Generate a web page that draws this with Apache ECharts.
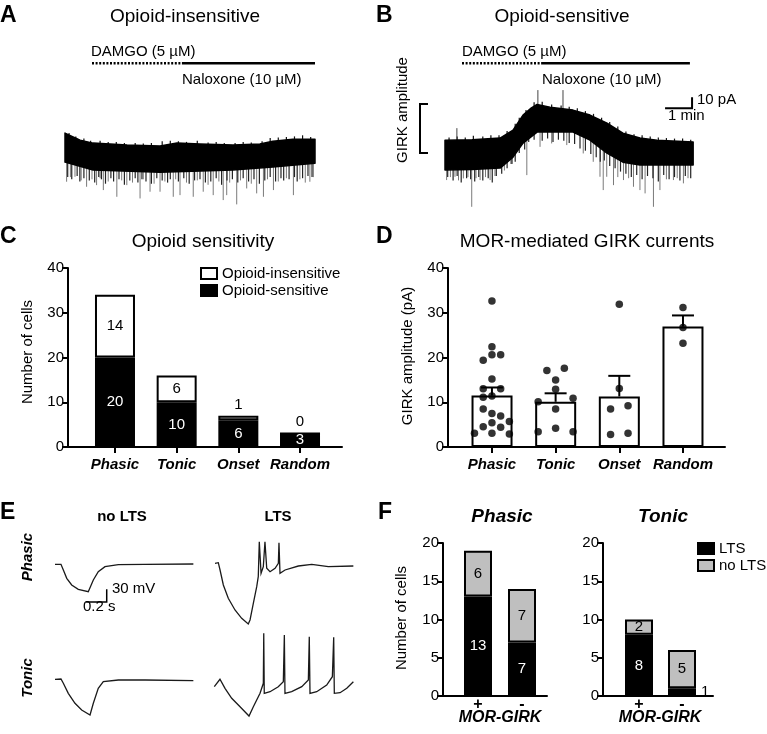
<!DOCTYPE html>
<html><head><meta charset="utf-8">
<script src="https://cdn.jsdelivr.net/npm/echarts@6/dist/echarts.min.js"></script>
<style>html,body{margin:0;padding:0;background:#fff}#c{width:767px;height:734px}</style>
</head><body><div id="c"></div>
<script>
// ---------------- DATA ----------------
// Panel A (time in min, current in pA relative to baseline)
const aTopT = [0, 0.56, 1.04, 2.3, 3.52, 4.15, 5.0, 6.22, 7.22, 7.7, 8.44, 9.26];
const aTopV = [20, 13.6, 10.9, 9.1, 8.2, 10.9, 10, 9.1, 10, 12.7, 14.5, 14.5];
const aBotT = [0, 1.04, 3.52, 6.22, 7.7, 9.26];
const aBotV = [-6.4, -13.6, -15.5, -13.6, -10.9, -7.3];
const aSpikeT = [0.06,0.2,0.37,0.6,0.8,1.0,1.17,1.3,1.42,1.6,1.92,2.1,2.29,2.5,2.78,2.9,3.15,3.3,3.52,3.7,4.01,4.1,4.26,4.5,4.75,4.9,5.12,5.3,5.49,5.7,5.86,5.99,6.1,6.36,6.5,6.73,6.9,7.1,7.35,7.5,7.72,7.9,8.2,8.46,8.7,8.9,9.07,9.2];
const aSpikeV = [-24.2,-20,-19.7,-23,-28.8,-22,-27.3,-21,-31.8,-24,-37.9,-23,-27.3,-25,-39.4,-22,-33.3,-26,-33.3,-24,-37.9,-22,-36.4,-25,-37.9,-23,-33.3,-27,-36.4,-24,-40.9,-36.4,-25,-44.8,-23,-30.3,-26,-34.8,-37.9,-22,-31.8,-24,-21,-36.4,-22,-25,-24.2,-20];
const aFringeT = [0.1,0.25,0.45,0.55,0.7,0.9,1.1,1.25,1.35,1.5,1.7,1.8,2.0,2.2,2.4,2.6,2.7,2.85,3.0,3.2,3.4,3.6,3.8,3.9,4.2,4.4,4.6,4.8,5.0,5.2,5.4,5.6,5.8,6.0,6.2,6.4,6.6,6.8,7.0,7.2,7.4,7.6,7.8,8.0,8.1,8.3,8.5,8.6,8.8,9.0,9.15];
const aFringeV = [-20,-22,-19,-24,-21,-23,-25,-20,-22,-26,-21,-24,-22,-27,-23,-21,-25,-22,-24,-26,-21,-23,-25,-22,-24,-21,-26,-23,-22,-25,-24,-21,-27,-23,-22,-25,-21,-24,-22,-26,-23,-20,-24,-21,-23,-22,-20,-24,-21,-19,-20];
const aTopFringeT = [0.15,0.4,0.7,0.95,1.3,1.6,1.9,2.2,2.6,2.9,3.2,3.6,3.9,4.2,4.5,4.9,5.3,5.6,5.9,6.3,6.6,6.9,7.3,7.6,7.9,8.2,8.5,8.8,9.1];
const aTopFringeV = [20,17,15,13,13,12,12,11,11,10.5,11,12.5,13,12.5,12,13,11.5,12,11,11,12,11.5,12.5,15.5,16,16.5,17,18,16.5];
const aDamgo = [1.0, 4.33];
const aNalox = [4.33, 9.26];
// Panel B
const bTopT = [0, 1.0, 2.04, 2.52, 2.89, 3.2, 3.41, 3.89, 4.74, 5.37, 6.0, 6.59, 7.22, 7.85, 9.19];
const bTopV = [13.6, 14, 15.5, 22.7, 36.4, 43, 46, 43.6, 40.9, 36.4, 29.1, 20, 15.5, 13.6, 11.8];
const bBotT = [0, 1.0, 2.04, 2.52, 2.89, 3.41, 4.74, 5.37, 6.0, 6.59, 7.22, 9.19];
const bBotV = [-13.6, -13, -11.8, -1.8, 10.9, 20.9, 20.9, 13.6, 1.8, -6.4, -9.1, -9.1];
const bSpikeT = [0.06,0.2,0.37,0.5,0.68,0.85,0.99,1.15,1.3,1.5,1.67,1.85,2.2,2.5,3.03,3.52,3.95,4.51,5.12,5.49,5.74,5.86,5.99,6.24,6.4,6.61,6.8,6.98,7.22,7.41,7.72,7.96,8.2,8.46,8.6,8.83,9.0];
const bSpikeV = [-22.7,-20,-19.7,-23,-21.2,-20,-47,-21,-22.7,-20,-22.7,-19,-14,-8,-18.2,7.5,10.6,9.1,1.5,-6.1,-19.7,-31.8,-19.7,-27.3,-20,-22.7,-21,-28.8,-31.8,-34.8,-47,-31.8,-22,-22.7,-21,-25.7,-21];
const bFringeT = [0.1,0.3,0.45,0.6,0.8,0.95,1.1,1.25,1.4,1.6,1.75,1.9,2.1,2.3,2.45,2.6,2.75,2.95,3.1,3.3,3.6,3.8,4.0,4.2,4.4,4.6,4.8,5.0,5.2,5.4,5.6,5.75,5.9,6.1,6.3,6.5,6.7,6.9,7.1,7.3,7.5,7.7,7.9,8.1,8.3,8.5,8.7,8.9,9.1];
const bFringeV = [-20,-23,-19,-25,-21,-22,-24,-20,-23,-21,-25,-19,-17,-12,-8,-6,2,5,12,14,13,15,12,14,13,11,10,6,4,1,-2,-6,-5,-10,-12,-15,-17,-20,-18,-22,-19,-21,-24,-18,-22,-20,-23,-19,-21];
const bTopFringeT = [0.15,0.45,0.75,1.05,1.4,1.7,2.0,2.3,2.6,2.75,3.0,3.3,3.6,3.95,4.3,4.6,4.9,5.2,5.5,5.8,6.1,6.4,6.7,7.0,7.3,7.6,7.9,8.2,8.5,8.8,9.1];
const bTopFringeV = [16,17,16,17.5,17,18,18,22,28.5,34,41,48,48.5,46,45,44,42.5,40,37.5,34,30,26,21.5,19,18,17,16,15.5,15,15,14];
const bUpT = [0.44, 3.44, 4.37];
const bUpV = [24.5, 59.1, 59.1];
const bDamgo = [0.63, 3.56];
const bNalox = [3.56, 9.07];
const drugLevel = 83.6;
const scaleMin = [8.15, 9.15];   // 1 min
const scalePA = [42.7, 52.7];    // 10 pA
const girkBracket = [1.8, 46.4]; // pA
// Panel C
const cCats = ['Phasic', 'Tonic', 'Onset', 'Random'];
const cSensitive = [20, 10, 6, 3];
const cInsensitive = [14, 6, 1, 0];
// Panel D
const dMeans = [11.5, 10.1, 11.3, 26.9];
const dSemTop = [13.3, 12.0, 15.9, 29.4];
const dPhasic = [32.6,22.4,20.6,20.6,19.4,15.2,13.0,13.0,11.1,11.4,8.5,7.5,6.9,5.7,5.4,4.5,4.4,3.1,3.1,2.9];
const dPhasicSlot = [0,0,0,1,-1,0,-1,1,-1,0,-1,0,1,2,0,-1,1,-2,0,2];
const dTonic = [17.1,17.6,15.0,12.9,10.1,10.9,8.5,4.2,3.4,3.4];
const dTonicSlot = [-1,1,0,0,-2,2,0,0,-2,2];
const dOnset = [31.9,13.1,8.5,9.2,2.8,3.1];
const dOnsetSlot = [0,0,-1,1,-1,1];
const dRandom = [31.2,26.7,23.2];
const dRandomSlot = [0,0,0];
// Panel E (time in s, membrane potential in mV)
const e1T = [0,0.058,0.081,0.114,0.162,0.226,0.323,0.34,0.372,0.42,0.485,0.615,0.874,1.343];
const e1V = [-55,-55,-68.5,-88.1,-103.9,-114.1,-119.7,-117.4,-92.1,-72.5,-60.7,-55.9,-55,-54.3];
const e2T = [0,0.032,0.049,0.081,0.129,0.194,0.259,0.323,0.34,0.372,0.405,0.42,0.43,0.447,0.469,0.485,0.502,0.534,0.583,0.615,0.621,0.631,0.68,0.809,0.939,1.1,1.343];
const e2V = [-55,-53.6,-70.8,-106.3,-137.7,-165.3,-184.9,-198.4,-188.9,-149.5,-110.3,-86.7,-4,-78.6,-63,-4,-66.8,-74.8,-66.8,-55,-6.3,-78.6,-70.8,-61.4,-57.4,-63,-61.4];
const e3T = [0,0.058,0.081,0.129,0.194,0.259,0.34,0.372,0.42,0.469,0.615,0.874,1.343];
const e3V = [-55,-54.3,-64.4,-88.1,-111.7,-127.5,-139.3,-111.7,-76.3,-60.7,-56.7,-56.7,-58.3];
const e4T = [0,0.055,0.104,0.169,0.25,0.337,0.379,0.444,0.476,0.48,0.485,0.541,0.621,0.67,0.68,0.686,0.751,0.849,0.913,0.922,0.929,0.994,1.091,1.146,1.159,1.165,1.221,1.286,1.35];
const e4V = [-72.5,-55,-76.3,-99.9,-119.7,-141.7,-119.7,-88.1,-64.4,53.7,-88.1,-84.3,-72.5,-60.7,49.6,-88.1,-84.3,-72.5,-56.7,45.6,-88.1,-84.3,-68.5,-48.9,44.2,-88.1,-86.7,-76.3,-60.7];
const eScaleT = [0.302, 0.502]; // 0.2 s
const eScaleV = [-144, -114];   // 30 mV
// Panel F
const fCats = ['+', '-'];
const fPhasicLTS = [13, 7];
const fPhasicNo = [6, 7];
const fTonicLTS = [8, 1];
const fTonicNo = [2, 5];

// ---------------- STYLE / BUILD ----------------
const FF = "'Liberation Sans', Arial, Helvetica, sans-serif";
const chart = echarts.init(document.getElementById('c'), null, {renderer: 'canvas'});

function interp(ts, vs, t) {
  if (t <= ts[0]) return vs[0];
  for (let i = 1; i < ts.length; i++) {
    if (t <= ts[i]) return vs[i-1] + (vs[i]-vs[i-1]) * (t-ts[i-1]) / (ts[i]-ts[i-1]);
  }
  return vs[vs.length-1];
}
function bandSeries(g, topT, topV, botT, botV) {
  return {type: 'custom', xAxisIndex: g, yAxisIndex: g, z: 4, silent: true, clip: false,
    data: [[topT[0], topV[0]]],
    renderItem: (p, api) => {
      const pts = [];
      for (let i = 0; i < topT.length; i++) pts.push(api.coord([topT[i], topV[i]]));
      for (let i = botT.length - 1; i >= 0; i--) pts.push(api.coord([botT[i], botV[i]]));
      return {type: 'polygon', shape: {points: pts}, style: {fill: '#000', stroke: '#000', lineWidth: 1.5, lineJoin: 'round'}};
    }};
}
function spikeSeries(g, ts, vs, topT, topV, botT, botV, color, w) {
  return {type: 'custom', xAxisIndex: g, yAxisIndex: g, z: 3, silent: true, clip: false,
    data: ts.map((t, i) => [t, vs[i]]),
    renderItem: (p, api) => {
      const t = api.value(0), v = api.value(1);
      const c = (interp(topT, topV, t) + interp(botT, botV, t)) / 2;
      const a = api.coord([t, c]), b = api.coord([t, v]);
      return {type: 'line', shape: {x1: a[0], y1: a[1], x2: b[0], y2: b[1]}, style: {stroke: color, lineWidth: w || 1}};
    }};
}
function lineS(g, data, width, type, color) {
  return {type: 'line', xAxisIndex: g, yAxisIndex: g, data: data, symbol: 'none', silent: true,
    lineStyle: {color: color || '#000', width: width, type: type || 'solid', cap: 'butt', join: 'miter'}, z: 5};
}
const hidden = (g, min, max) => ({gridIndex: g, type: 'value', min: min, max: max, show: false});
function frameX(g, min, max) {
  return {gridIndex: g, type: 'value', min: min, max: max,
    axisLine: {show: true, onZero: false, lineStyle: {color: '#000', width: 2}},
    axisTick: {show: false}, axisLabel: {show: false}, splitLine: {show: false}};
}
function catX(g, cats, ticks, size) {
  return {gridIndex: g, type: 'category', data: cats, boundaryGap: true,
    axisLine: {show: false},
    axisTick: {show: ticks, alignWithLabel: true, length: 6, lineStyle: {color: '#000', width: 2}},
    axisLabel: {show: true, interval: 0, color: '#000', fontFamily: FF, fontSize: size || 15, fontWeight: 'bold',
      fontStyle: ticks ? 'italic' : 'normal', margin: ticks ? 10 : 1},
    splitLine: {show: false}};
}
function valY(g, max, interval) {
  return {gridIndex: g, type: 'value', min: 0, max: max, interval: interval,
    axisLine: {show: true, onZero: false, lineStyle: {color: '#000', width: 2}},
    axisTick: {show: true, length: 6, lineStyle: {color: '#000', width: 2}},
    axisLabel: {color: '#000', fontFamily: FF, fontSize: 15, margin: 4},
    splitLine: {show: false}};
}
const G = (o) => Object.assign({containLabel: false, outerBoundsMode: 'none'}, o);

const grids = [
  G({left: 65, top: 55, width: 250, height: 155.1}),        // 0 A
  G({left: 420, top: 55, width: 280, height: 155.1}),       // 1 B
  G({left: 68, top: 268, width: 274, height: 179}),         // 2 C frame
  G({left: 448, top: 268, width: 277, height: 179}),        // 3 D frame
  G({left: 55, top: 507.15, width: 140, height: 122.76}),   // 4 E1
  G({left: 215, top: 506.15, width: 140, height: 122.76}),  // 5 E2
  G({left: 55, top: 622.15, width: 140, height: 122.76}),   // 6 E3
  G({left: 214.3, top: 622.15, width: 140, height: 122.76}),// 7 E4
  G({left: 443, top: 543, width: 104, height: 153}),        // 8 F1 frame
  G({left: 603, top: 543, width: 110, height: 153}),        // 9 F2 frame
  G({left: 84.15, top: 268, width: 246.7, height: 179}),    // 10 C bars
  G({left: 460.2, top: 268, width: 254.6, height: 179}),    // 11 D bars
  G({left: 456, top: 543, width: 88, height: 153}),         // 12 F1 bars
  G({left: 617.5, top: 543, width: 86, height: 153})        // 13 F2 bars
];
const xAxes = [
  hidden(0, 0, 9.26), hidden(1, -0.926, 9.444),
  frameX(2, -0.76, 3.68), frameX(3, -0.69, 3.66),
  hidden(4, 0, 1.359), hidden(5, 0, 1.359), hidden(6, 0, 1.359), hidden(7, 0, 1.359),
  frameX(8, -0.8, 1.57), frameX(9, -0.82, 1.68),
  catX(10, cCats, true), catX(11, cCats, true), catX(12, fCats, false, 16), catX(13, fCats, false, 16)
];
const yAxes = [
  hidden(0, -50, 91), hidden(1, -50, 91),
  valY(2, 40, 10), valY(3, 40, 10),
  hidden(4, -210, 80), hidden(5, -210, 80), hidden(6, -210, 80), hidden(7, -210, 80),
  valY(8, 20, 5), valY(9, 20, 5),
  hidden(10, 0, 40), hidden(11, 0, 40), hidden(12, 0, 20), hidden(13, 0, 20)
];

const series = [];
// A
series.push(spikeSeries(0, aSpikeT, aSpikeV, aTopT, aTopV, aBotT, aBotV, '#7a7a7a'));
series.push(spikeSeries(0, aFringeT, aFringeV, aTopT, aTopV, aBotT, aBotV, '#222', 1.2));
series.push(spikeSeries(0, aTopFringeT, aTopFringeV, aTopT, aTopV, aBotT, aBotV, '#111', 1.2));
series.push(bandSeries(0, aTopT, aTopV, aBotT, aBotV));
series.push(lineS(0, aDamgo.map(t => [t, drugLevel]), 2.5, [2, 1.6]));
series.push(lineS(0, aNalox.map(t => [t, drugLevel]), 2.5));
// B
series.push(spikeSeries(1, bSpikeT, bSpikeV, bTopT, bTopV, bBotT, bBotV, '#7a7a7a'));
series.push(spikeSeries(1, bFringeT, bFringeV, bTopT, bTopV, bBotT, bBotV, '#222', 1.2));
series.push(spikeSeries(1, bTopFringeT, bTopFringeV, bTopT, bTopV, bBotT, bBotV, '#111', 1.2));
series.push(spikeSeries(1, bUpT, bUpV, bTopT, bTopV, bBotT, bBotV, '#444'));
series.push(bandSeries(1, bTopT, bTopV, bBotT, bBotV));
series.push(lineS(1, bDamgo.map(t => [t, drugLevel]), 2.5, [2, 1.6]));
series.push(lineS(1, bNalox.map(t => [t, drugLevel]), 2.5));
series.push(lineS(1, [[scaleMin[0], scalePA[0]], [scaleMin[1], scalePA[0]], [scaleMin[1], scalePA[1]]], 2));
series.push(lineS(1, [[-0.63, girkBracket[1]], [-0.926, girkBracket[1]], [-0.926, girkBracket[0]], [-0.63, girkBracket[0]]], 2));
// C
const barBorder = {borderColor: '#000', borderWidth: 2};
const lbl = (pos, color) => ({show: true, position: pos, color: color, fontFamily: FF, fontSize: 15});
series.push({type: 'bar', name: 'Opioid-sensitive', xAxisIndex: 10, yAxisIndex: 10, stack: 'c', barWidth: 40,
  itemStyle: Object.assign({color: '#000'}, barBorder), label: lbl('inside', '#fff'), data: cSensitive});
series.push({type: 'bar', name: 'Opioid-insensitive', xAxisIndex: 10, yAxisIndex: 10, stack: 'c', barWidth: 40,
  itemStyle: Object.assign({color: '#fff'}, barBorder), label: lbl('inside', '#000'),
  data: cInsensitive.map(v => v < 3 ? {value: v, label: {position: 'top', distance: 3}} : v)});
// D
series.push({type: 'bar', name: 'mean', xAxisIndex: 11, yAxisIndex: 11, barWidth: 41,
  itemStyle: Object.assign({color: '#fff'}, barBorder), data: dMeans});
series.push({type: 'custom', xAxisIndex: 3, yAxisIndex: 3, z: 6, silent: true,
  data: dMeans.map((m, i) => [i, m, dSemTop[i]]),
  renderItem: (p, api) => {
    const a = api.coord([api.value(0), api.value(1)]), b = api.coord([api.value(0), api.value(2)]);
    return {type: 'group', children: [
      {type: 'line', shape: {x1: a[0], y1: a[1], x2: b[0], y2: b[1]}, style: {stroke: '#000', lineWidth: 2}},
      {type: 'line', shape: {x1: b[0] - 11, y1: b[1], x2: b[0] + 11, y2: b[1]}, style: {stroke: '#000', lineWidth: 2}}
    ]};
  }});
const slotW = 0.137;
const dots = [];
[[dPhasic, dPhasicSlot], [dTonic, dTonicSlot], [dOnset, dOnsetSlot], [dRandom, dRandomSlot]].forEach((g, ci) => {
  g[0].forEach((v, k) => dots.push([ci + g[1][k] * slotW, v]));
});
series.push({type: 'scatter', xAxisIndex: 3, yAxisIndex: 3, z: 7, symbolSize: 7.5, itemStyle: {color: '#000'}, data: dots});
// E
const eLine = (g, T, V) => lineS(g, T.map((t, i) => [t, V[i]]), 1.3, 'solid', '#1a1a1a');
series.push(eLine(4, e1T, e1V), eLine(5, e2T, e2V), eLine(6, e3T, e3V), eLine(7, e4T, e4V));
series.push(lineS(4, [[eScaleT[0], eScaleV[0]], [eScaleT[1], eScaleV[0]], [eScaleT[1], eScaleV[1]]], 1.5));
// F
function fBars(g, lts, no) {
  series.push({type: 'bar', name: 'LTS', xAxisIndex: g, yAxisIndex: g, stack: 'f' + g, barWidth: 28,
    itemStyle: Object.assign({color: '#000'}, barBorder), label: lbl('inside', '#fff'),
    data: lts.map(v => v < 2 ? {value: v, label: {position: 'right', color: '#000', distance: 5}} : v)});
  series.push({type: 'bar', name: 'no LTS', xAxisIndex: g, yAxisIndex: g, stack: 'f' + g, barWidth: 28,
    itemStyle: Object.assign({color: '#bfbfbf'}, barBorder), label: lbl('inside', '#000'), data: no});
}
fBars(12, fPhasicLTS, fPhasicNo);
fBars(13, fTonicLTS, fTonicNo);

// Texts
function T(text, x, y, size, opts) {
  opts = opts || {};
  const font = (opts.italic ? 'italic ' : '') + (opts.bold ? 'bold ' : '') + size + 'px ' + FF;
  return {type: 'text', x: x, y: y, rotation: opts.rot ? Math.PI / 2 : 0, silent: true, z: 10,
    style: {text: text, x: 0, y: 0, font: font, fill: '#000',
      align: opts.align || 'left', textAlign: opts.align || 'left',
      verticalAlign: 'middle', textVerticalAlign: 'middle'}};
}
const graphics = [
  T('A', 0, 16, 23, {bold: true}),
  T('Opioid-insensitive', 185, 17, 19, {align: 'center'}),
  T('DAMGO (5 µM)', 91, 52, 15),
  T('Naloxone (10 µM)', 182, 80, 15),
  T('B', 376, 16, 23, {bold: true}),
  T('Opioid-sensitive', 562, 17, 19, {align: 'center'}),
  T('DAMGO (5 µM)', 462, 52, 15),
  T('Naloxone (10 µM)', 542, 80, 15),
  T('10 pA', 697, 100, 15),
  T('1 min', 668, 116, 15),
  T('GIRK amplitude', 403, 110, 15, {align: 'center', rot: true}),
  T('C', 0, 237, 23, {bold: true}),
  T('Opioid sensitivity', 203, 242, 19, {align: 'center'}),
  T('Number of cells', 28, 352, 15, {align: 'center', rot: true}),
  T('D', 376, 237, 23, {bold: true}),
  T('MOR-mediated GIRK currents', 587, 242, 19, {align: 'center'}),
  T('GIRK amplitude (pA)', 408, 356, 15, {align: 'center', rot: true}),
  T('E', 0, 513, 23, {bold: true}),
  T('no LTS', 122, 517, 15, {align: 'center', bold: true}),
  T('LTS', 278, 517, 15, {align: 'center', bold: true}),
  T('Phasic', 28, 557, 15, {align: 'center', bold: true, italic: true, rot: true}),
  T('Tonic', 28, 678, 15, {align: 'center', bold: true, italic: true, rot: true}),
  T('30 mV', 112, 589, 15),
  T('0.2 s', 83, 607, 15),
  T('F', 378, 513, 23, {bold: true}),
  T('Phasic', 502, 517, 19, {align: 'center', bold: true, italic: true}),
  T('Tonic', 663, 517, 19, {align: 'center', bold: true, italic: true}),
  T('Number of cells', 402, 618, 15, {align: 'center', rot: true}),
  T('MOR-GIRK', 500, 718, 16, {align: 'center', bold: true, italic: true}),
  T('MOR-GIRK', 660, 718, 16, {align: 'center', bold: true, italic: true})
];

const legendBase = {orient: 'vertical', itemWidth: 16, itemHeight: 11, itemGap: 2, padding: 0, icon: 'rect',
  selectedMode: false, textStyle: {fontSize: 15, fontFamily: FF, color: '#000'}};
chart.setOption({
  animation: false,
  backgroundColor: '#fff',
  textStyle: {fontFamily: FF},
  grid: grids, xAxis: xAxes, yAxis: yAxes, series: series,
  legend: [
    Object.assign({}, legendBase, {data: ['Opioid-insensitive', 'Opioid-sensitive'], left: 200, top: 266}),
    Object.assign({}, legendBase, {data: ['LTS', 'no LTS'], left: 697, top: 541})
  ],
  graphic: {elements: graphics}
});
</script></body></html>
